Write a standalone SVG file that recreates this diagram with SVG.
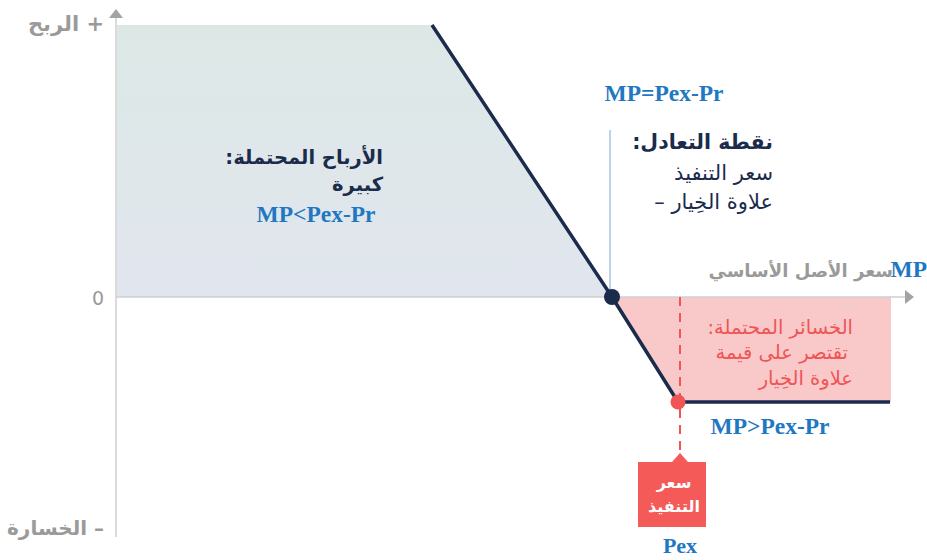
<svg xmlns="http://www.w3.org/2000/svg" width="927" height="560" viewBox="0 0 927 560">
  <defs>
    <linearGradient id="gainFill" x1="0" y1="0" x2="0" y2="1">
      <stop offset="0" stop-color="#dde8e6"/>
      <stop offset="1" stop-color="#e1e6ee"/>
    </linearGradient>
    <style>
      .axis { stroke: #cfcfcf; stroke-width: 1.5; fill: none; }
      .head { fill: #a3a3a3; }
      .axlbl { font-family: "DejaVu Sans", sans-serif; font-size: 21px; fill: #9a9a9a; font-weight: bold; }
      .ar { font-family: "DejaVu Sans", sans-serif; font-size: 20px; }
      .navyB { fill: #1a2b4c; font-weight: bold; }
      .navy { fill: #1a2b4c; }
      .red { fill: #f05454; font-size: 19.5px; }
      .formula { font-family: "Liberation Serif", serif; font-weight: bold; font-size: 23.5px; fill: #1f78c1; }
      .payoff { stroke: #1a2b4c; stroke-width: 3.5; fill: none; stroke-linejoin: round; }
    </style>
  </defs>

  <!-- shaded regions -->
  <g id="gain-zone">
    <polygon points="117,25 432,25 612,297 117,297" fill="url(#gainFill)"/>
  </g>
  <g id="loss-zone">
    <polygon points="612,297 891,297 891,402 678,402" fill="#f9c9ca"/>
  </g>

  <!-- axes -->
  <g id="axes">
    <line class="axis" x1="116" y1="16" x2="116" y2="537"/>
    <polygon class="head" points="116,9 109,18 123,18"/>
    <line class="axis" x1="116" y1="297" x2="906" y2="297"/>
    <polygon class="head" points="914,297 905,290 905,304"/>
    <text class="axlbl" x="104" y="31" text-anchor="end">الربح +</text>
    <text class="axlbl" x="104" y="535" text-anchor="end" style="font-size:20px">الخسارة –</text>
    <text class="axlbl" x="104" y="305" text-anchor="end" style="font-weight:normal;font-size:19px">0</text>
    <text class="axlbl" x="893" y="277" text-anchor="end" style="font-size:18px">سعر الأصل الأساسي</text>
    <text class="formula" x="927" y="277" text-anchor="end">MP</text>
  </g>

  <!-- connectors and guides -->
  <g id="connectors">
    <line x1="610" y1="130" x2="610" y2="297" stroke="#b9d3e8" stroke-width="2"/>
    <line x1="680" y1="297" x2="680" y2="456" stroke="#f05454" stroke-width="2" stroke-dasharray="9 7"/>
    <polyline class="payoff" points="432,25 612,297 678,402 890,402"/>
  </g>

  <g id="breakeven-point">
    <circle cx="612" cy="297" r="8" fill="#1a2b4c"/>
  </g>
  <g id="strike-point">
    <circle cx="678" cy="402" r="7.5" fill="#f05454"/>
  </g>

  <!-- labels -->
  <g id="breakeven-label">
    <text class="formula" x="664" y="101" text-anchor="middle">MP=Pex-Pr</text>
    <text class="ar navyB" x="773" y="149" text-anchor="end" style="font-size:20.5px">نقطة التعادل:&#x200F;</text>
    <text class="ar navy" x="773" y="180" text-anchor="end" style="font-size:21px">سعر التنفيذ</text>
    <text class="ar navy" x="773" y="209" text-anchor="end" style="font-size:21px">– علاوة الخِيار</text>
  </g>

  <g id="gain-label">
    <text class="ar navyB" x="383" y="164" text-anchor="end" style="font-size:19.5px">الأرباح المحتملة:&#x200F;</text>
    <text class="ar navyB" x="383" y="191" text-anchor="end" style="font-size:19.5px">كبيرة</text>
    <text class="formula" x="316" y="222" text-anchor="middle">MP&lt;Pex-Pr</text>
  </g>

  <g id="loss-label">
    <text class="ar red" x="853" y="334" text-anchor="end">الخسائر المحتملة:&#x200F;</text>
    <text class="ar red" x="848" y="359" text-anchor="end">تقتصر على قيمة</text>
    <text class="ar red" x="853" y="385" text-anchor="end">علاوة الخِيار</text>
    <text class="formula" x="770" y="434" text-anchor="middle">MP&gt;Pex-Pr</text>
  </g>

  <g id="strike-callout">
    <polygon points="638,462 672,462 680,453 688,462 706,462 706,527 638,527" fill="#f45a57"/>
    <text class="ar" x="674" y="488" text-anchor="middle" fill="#ffffff" style="font-size:16px;font-weight:bold">سعر</text>
    <text class="ar" x="674" y="512" text-anchor="middle" fill="#ffffff" style="font-size:16px;font-weight:bold">التنفيذ</text>
    <text class="formula" x="680" y="553" text-anchor="middle" style="font-size:22px">Pex</text>
  </g>
</svg>
